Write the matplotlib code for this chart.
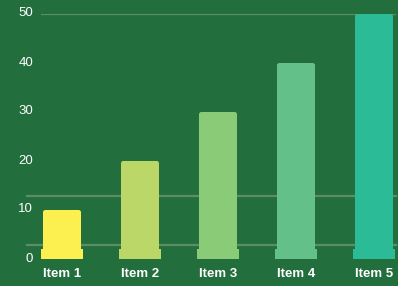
import matplotlib
matplotlib.use("Agg")
import matplotlib.pyplot as plt
import matplotlib.transforms as mtransforms
from matplotlib.patches import FancyBboxPatch

categories = ["Item 1", "Item 2", "Item 3", "Item 4", "Item 5"]
values = [10, 20, 30, 40, 50]
colors = ["#fcef50", "#bbd768", "#8acb78", "#62c088", "#2bbb96"]
y_ticks = [0, 10, 20, 30, 40, 50]
grid_levels = [2.8, 12.8]

bg = "#236e3d"
grid_color = "#5d8d66"

W, H = 398, 286
fig = plt.figure(figsize=(W / 100, H / 100), dpi=100, facecolor=bg)
ax = fig.add_axes([40 / W, 27 / H, (W - 40) / W, (272 - 27) / H])
ax.set_facecolor(bg)

x_lo = (40 - 62) / 78
x_hi = (398 - 62) / 78
ax.set_xlim(x_lo, x_hi)
ax.set_ylim(0, 50)

# grid lines
ax.axhline(50, xmin=(42 - 40) / 358, xmax=(395 - 40) / 358, color=grid_color, lw=1.6, zorder=1)
for g in grid_levels:
    ax.axhline(g, xmin=(27 - 40) / 358, xmax=(396 - 40) / 358, color=grid_color, lw=1.6,
               zorder=1, clip_on=False)

bar_w = 38 / 78
base_w = 42 / 78
base_h = 2.0
aspect = (245 / 50) ** -1 / (1 / 78)
for i, (v, c) in enumerate(zip(values, colors)):
    p = FancyBboxPatch((i - bar_w / 2, 0), bar_w, v,
                       boxstyle="round,pad=0,rounding_size=0.03",
                       mutation_aspect=aspect, fc=c, ec="none", zorder=2)
    ax.add_patch(p)
    ax.bar(i, base_h, width=base_w, color=c, zorder=3, linewidth=0)

ax.set_xticks(range(len(categories)))
ax.set_xticklabels(categories, fontfamily="Liberation Sans", fontweight="bold",
                   fontsize=9.5, color="white")
ax.set_yticks(y_ticks)
ax.set_yticklabels([str(t) for t in y_ticks], fontfamily="Liberation Sans",
                   fontsize=9.5, color="white")
ax.tick_params(axis="both", length=0)
ax.tick_params(axis="y", pad=5)
ax.tick_params(axis="x", pad=6.5)
for s in ax.spines.values():
    s.set_visible(False)

shift = mtransforms.ScaledTranslation(0, 2 / 100, fig.dpi_scale_trans)
for lab in ax.get_yticklabels():
    lab.set_transform(lab.get_transform() + shift)

fig.savefig("out.png", dpi=100, facecolor=bg)
